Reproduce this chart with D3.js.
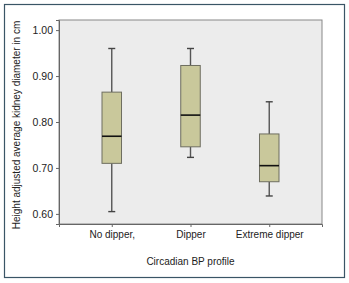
<!DOCTYPE html>
<html>
<head>
<meta charset="utf-8">
<script src="https://cdn.jsdelivr.net/npm/d3@7"></script>
<style>
  body { margin: 0; background: #fff; }
  text { font-family: "Liberation Sans", Arial, sans-serif; fill: #222; }
</style>
</head>
<body>
<svg id="chart" width="349" height="283"></svg>
<script>
// box plot summaries
const groups = ["No dipper,", "Dipper", "Extreme dipper"];
const whiskerLow = [0.605, 0.723, 0.639];
const q1 = [0.710, 0.746, 0.670];
const median = [0.769, 0.815, 0.705];
const q3 = [0.865, 0.923, 0.774];
const whiskerHigh = [0.960, 0.960, 0.844];
const yTicks = [0.60, 0.70, 0.80, 0.90, 1.00];

const svg = d3.select("#chart");
const margin = {top: 20, right: 27, bottom: 59, left: 59};
const width = 349 - margin.left - margin.right;
const height = 283 - margin.top - margin.bottom;

// outer frame
svg.append("rect")
    .attr("x", 4.5).attr("y", 4.5)
    .attr("width", 340).attr("height", 273)
    .attr("fill", "#fff")
    .attr("stroke", "#3a5566")
    .attr("stroke-width", 1.2);

const g = svg.append("g").attr("transform", `translate(${margin.left},${margin.top})`);

const x = d3.scalePoint().domain(groups).range([0, width]).padding(0.67);
const y = d3.scaleLinear().domain([0.578, 1.022]).range([height, 0]);

g.append("rect")
    .attr("width", width).attr("height", height)
    .attr("fill", "#ececec")
    .attr("stroke", "#888");

const yAxis = g.append("g")
    .call(d3.axisLeft(y).tickValues(yTicks).tickFormat(d3.format(".2f")).tickSize(3).tickPadding(3));
yAxis.select(".domain").attr("stroke", "#666");
yAxis.selectAll(".tick line").attr("stroke", "#666");
yAxis.selectAll("text").style("font-size", "10.5px").attr("fill", "#222");

const xAxis = g.append("g")
    .attr("transform", `translate(0,${height})`)
    .call(d3.axisBottom(x).tickSize(3).tickPadding(4));
xAxis.select(".domain").attr("stroke", "#666");
xAxis.selectAll(".tick line").attr("stroke", "#666");
xAxis.selectAll("text").style("font-size", "10px").attr("fill", "#222");

const boxW = 19.5;
const capW = 7;
const data = groups.map((k, i) => ({
    key: k, lo: whiskerLow[i], q1: q1[i], med: median[i], q3: q3[i], hi: whiskerHigh[i]
}));

const box = g.selectAll(".box").data(data).enter().append("g")
    .attr("class", "box")
    .attr("transform", d => `translate(${x(d.key)},0)`);

box.append("line")
    .attr("y1", d => y(d.lo)).attr("y2", d => y(d.q1))
    .attr("stroke", "#555").attr("stroke-width", 1.4);
box.append("line")
    .attr("y1", d => y(d.q3)).attr("y2", d => y(d.hi))
    .attr("stroke", "#555").attr("stroke-width", 1.4);
box.selectAll(".cap").data(d => [d.lo, d.hi]).enter().append("line")
    .attr("x1", -capW / 2).attr("x2", capW / 2)
    .attr("y1", v => y(v)).attr("y2", v => y(v))
    .attr("stroke", "#444").attr("stroke-width", 1.4);
box.append("rect")
    .attr("x", -boxW / 2).attr("width", boxW)
    .attr("y", d => y(d.q3)).attr("height", d => y(d.q1) - y(d.q3))
    .attr("fill", "#c9c89b").attr("stroke", "#6e6e60").attr("stroke-width", 1);
box.append("line")
    .attr("x1", -boxW / 2).attr("x2", boxW / 2)
    .attr("y1", d => y(d.med)).attr("y2", d => y(d.med))
    .attr("stroke", "#111").attr("stroke-width", 1.6);

svg.append("text")
    .attr("transform", `translate(20,${margin.top + height / 2 + 3}) rotate(-90)`)
    .attr("text-anchor", "middle")
    .style("font-size", "10px")
    .text("Height adjusted average kidney diameter in cm");

svg.append("text")
    .attr("x", margin.left + x("Dipper"))
    .attr("y", 265)
    .attr("text-anchor", "middle")
    .style("font-size", "10px")
    .text("Circadian BP profile");
</script>
</body>
</html>
